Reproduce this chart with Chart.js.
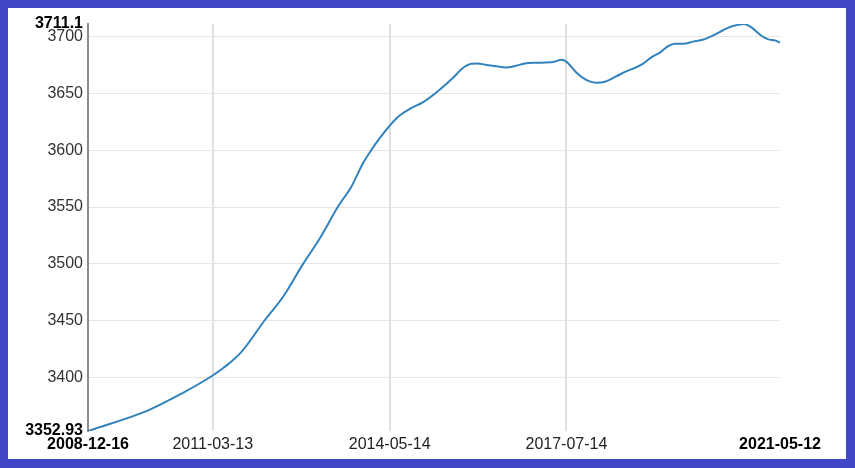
<!DOCTYPE html>
<html>
<head>
<meta charset="utf-8">
<script src="https://cdn.jsdelivr.net/npm/chart.js@4.4.0/dist/chart.umd.min.js"></script>
<style>
  html, body { margin: 0; padding: 0; }
  body { width: 855px; height: 468px; background: #4046c8; position: relative; overflow: hidden; }
  #box { position: absolute; left: 8px; top: 8px; width: 838px; height: 451px; background: #fff; }
</style>
</head>
<body>
<div id="box"><canvas id="chart"></canvas></div>
<script>
// ---- data ----
const dates = [
  "2008-12-16", "2010-01-14", "2010-08-21", "2011-03-15", "2011-05-31", "2011-09-17",
  "2012-02-17", "2012-06-15", "2012-10-24", "2013-02-11", "2013-06-10", "2013-09-06",
  "2013-11-21", "2014-01-16", "2014-03-11", "2014-07-08", "2014-09-23", "2014-12-19",
  "2015-04-08", "2015-07-03", "2015-09-07", "2015-11-01", "2015-12-14", "2016-01-27",
  "2016-04-01", "2016-06-17", "2016-08-10", "2016-10-15", "2016-12-31", "2017-04-18",
  "2017-06-12", "2017-07-15", "2017-09-18", "2017-11-23", "2018-01-28", "2018-03-23",
  "2018-06-07", "2018-08-12", "2018-09-24", "2018-11-28", "2019-01-23", "2019-03-18",
  "2019-05-11", "2019-06-24", "2019-08-17", "2019-10-22", "2019-12-27", "2020-03-01",
  "2020-05-05", "2020-06-18", "2020-08-22", "2020-09-16", "2020-10-27", "2020-11-29",
  "2021-01-12", "2021-02-24", "2021-04-09", "2021-05-12"
];
const values = [
  3352.93, 3371.1, 3385.9, 3402.0, 3409.4, 3422.6,
  3450.6, 3471.1, 3500.0, 3522.6, 3550.5, 3568.2,
  3588.8, 3600.6, 3610.9, 3629.4, 3636.5, 3642.3,
  3653.5, 3663.8, 3672.6, 3676.2, 3676.4, 3675.3,
  3674.1, 3672.9, 3674.1, 3676.4, 3677.0, 3677.6,
  3679.7, 3677.8, 3668.2, 3661.7, 3659.4, 3660.3,
  3665.2, 3669.6, 3671.8, 3676.2, 3682.0, 3685.9,
  3691.7, 3693.8, 3693.8, 3695.6, 3697.4, 3701.1,
  3705.6, 3708.5, 3710.6, 3711.1, 3709.1, 3705.6,
  3700.5, 3697.6, 3696.7, 3694.7
];
const xTickDates = ["2008-12-16", "2011-03-13", "2014-05-14", "2017-07-14", "2021-05-12"];
const yTickValues = [3352.93, 3400, 3450, 3500, 3550, 3600, 3650, 3700, 3711.1];

// dates -> day numbers so the x axis is a true time line
const DAY = 86400000;
const toDay = s => {
  const [y, m, d] = s.split("-").map(Number);
  return Date.UTC(y, m - 1, d) / DAY;
};
const fromDay = v => new Date(Math.round(v) * DAY).toISOString().slice(0, 10);

const points = dates.map((d, i) => ({ x: toDay(d), y: values[i] }));
const xTicks = xTickDates.map(toDay);

// first and last tick of each axis are drawn bold and get no grid line
const endOf = (arr) => (ctx) => !!ctx.tick && (ctx.tick.value === arr[0] || ctx.tick.value === arr[arr.length - 1]);
const xEnd = endOf(xTicks);
const yEnd = endOf(yTickValues);
const FONT = "'Liberation Sans', Arial, sans-serif";

new Chart(document.getElementById("chart"), {
  type: "line",
  data: {
    datasets: [{
      data: points,
      borderColor: "#3182bd",
      borderWidth: 2,
      pointRadius: 0,
      fill: false,
      cubicInterpolationMode: "monotone",
    }],
  },
  options: {
    responsive: true,
    maintainAspectRatio: false,
    animation: false,
    layout: { padding: { left: 0, top: 16, right: 66, bottom: 0 } },
    plugins: { legend: { display: false }, tooltip: { enabled: false } },
    scales: {
      x: {
        type: "linear",
        min: xTicks[0],
        max: xTicks[xTicks.length - 1],
        afterBuildTicks: (scale) => { scale.ticks = xTicks.map(v => ({ value: v })); },
        afterFit: (scale) => { scale.height = 28; },
        border: { display: false },
        grid: {
          drawTicks: false,
          lineWidth: 2,
          color: (ctx) => (xEnd(ctx) ? "rgba(0,0,0,0)" : "#e0e0e0"),
        },
        ticks: {
          autoSkip: false,
          maxRotation: 0,
          padding: 4,
          callback: (v) => fromDay(v),
          color: (ctx) => (xEnd(ctx) ? "#000" : "#222"),
          font: (ctx) => ({ family: FONT, size: 16, weight: xEnd(ctx) ? "bold" : "normal" }),
        },
      },
      y: {
        min: yTickValues[0],
        max: yTickValues[yTickValues.length - 1],
        afterBuildTicks: (scale) => { scale.ticks = yTickValues.map(v => ({ value: v })); },
        afterFit: (scale) => { scale.width = 80; },
        border: { display: true, color: "#8c8c8c", width: 2 },
        grid: {
          drawTicks: false,
          lineWidth: 1,
          color: (ctx) => (yEnd(ctx) ? "rgba(0,0,0,0)" : "#e6e6e6"),
        },
        ticks: {
          autoSkip: false,
          padding: 5,
          callback: (v) => String(v),
          color: (ctx) => (yEnd(ctx) ? "#000" : "#333"),
          font: (ctx) => ({ family: FONT, size: 16, weight: yEnd(ctx) ? "bold" : "normal" }),
        },
      },
    },
  },
});
</script>
</body>
</html>
